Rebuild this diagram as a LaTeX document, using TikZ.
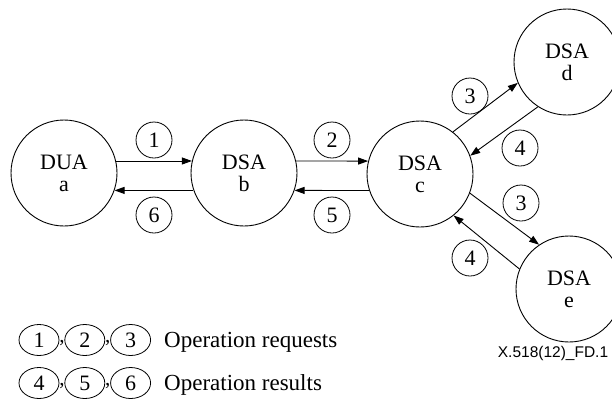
\documentclass[tikz,border=0pt]{standalone}
\usepackage{fontspec}
\setmainfont{Liberation Serif}
\newfontfamily\figsans{Liberation Sans}
\usetikzlibrary{shapes.geometric, arrows.meta, positioning, calc}

\begin{document}
\begin{tikzpicture}[
    x=1pt, y=-1pt,
    agent/.style={circle, draw, line width=0.9pt, minimum size=106pt, inner sep=0pt, align=center, font=\fontsize{22}{22}\selectfont},
    num/.style={circle, draw, line width=0.8pt, minimum size=36pt, inner sep=0pt, font=\fontsize{22}{22}\selectfont},
    keynum/.style={ellipse, draw, line width=0.8pt, minimum width=40pt, minimum height=31pt, inner sep=0pt, font=\fontsize{22}{22}\selectfont},
    keytext/.style={anchor=base west, inner sep=0pt, font=\fontsize{23}{23}\selectfont},
    line/.style={draw, -{Triangle[length=10pt,width=7pt]}, line width=0.9pt}
]
    \useasboundingbox (0,0) rectangle (612,405);

    % Nodes
    \node (a) [agent] at (64,173) {DUA\\a};
    \node (b) [agent] at (244,173) {DSA\\b};
    \node (c) [agent] at (420,174) {DSA\\c};
    \node (d) [agent] at (567,62) {DSA\\d};
    \node (e) [agent] at (569,289) {DSA\\e};

    \node (n1) [num] at (154,140) {1};
    \node (n6) [num] at (154,215) {6};
    \node (n2) [num] at (332,140) {2};
    \node (n5) [num] at (332,215) {5};
    \node (n3d) [num] at (470,96) {3};
    \node (n4d) [num] at (520,148) {4};
    \node (n3e) [num] at (521,203) {3};
    \node (n4e) [num] at (470,258) {4};

    % Connections
    \draw [line] (a.13) -- (b.167);
    \draw [line] (b.199) -- (a.-19);
    \draw [line] (b.13) -- (c.166);
    \draw [line] (c.198) -- (b.-19);
    \draw [line] (c.52) -- (d.203);
    \draw [line] (d.237) -- (c.20);
    \draw [line] (c.-21) -- (e.124);
    \draw [line] (e.158) -- (c.-51);

    % Legend
    \node (k1) [keynum] at (39,340) {1};
    \node (k2) [keynum, right=5pt of k1] {2};
    \node (k3) [keynum, right=5pt of k2] {3};
    \node (k4) [keynum] at (39,383) {4};
    \node (k5) [keynum, right=5pt of k4] {5};
    \node (k6) [keynum, right=5pt of k5] {6};
    \foreach \l/\r in {k1/k2, k2/k3, k4/k5, k5/k6}
        \node (comma-\l) [anchor=north, inner sep=0pt, font=\fontsize{21}{21}\selectfont] at ($(\l.east)!0.5!(\r.west)$) {,};
    \node (req) [keytext] at ([xshift=13pt]k3.east |- k3.base) {Operation requests};
    \node (res) [keytext] at ([xshift=13pt]k6.east |- k6.base) {Operation results};

    \node (fig) [anchor=base, font=\figsans\fontsize{15.5}{15.5}\selectfont] at (553,357) {X.518(12)\_FD.1};
\end{tikzpicture}
\end{document}
